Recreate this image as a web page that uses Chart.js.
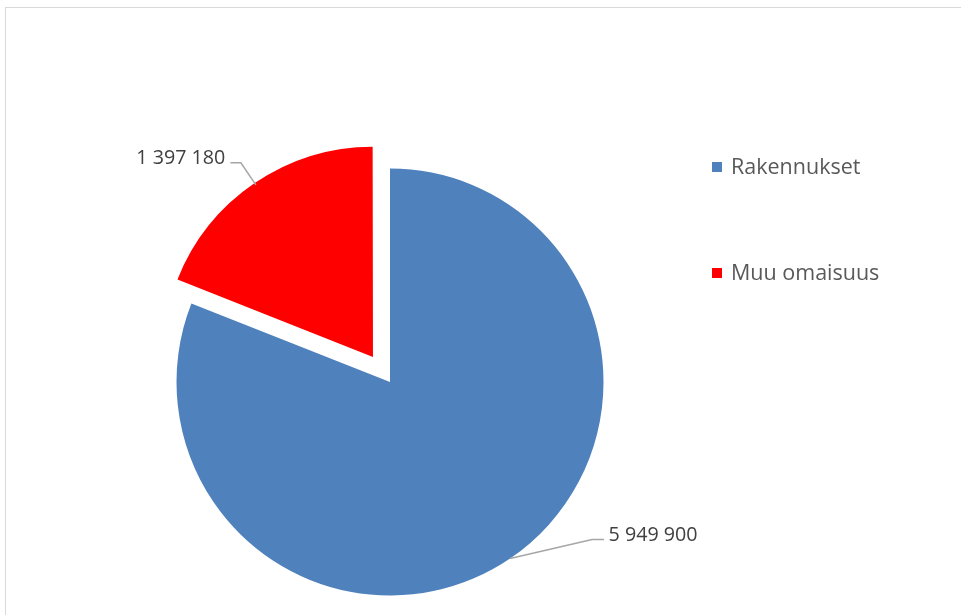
<!DOCTYPE html>
<html>
<head>
<meta charset="utf-8">
<script src="https://cdn.jsdelivr.net/npm/chart.js@4.4.0/dist/chart.umd.min.js"></script>
<style>
    html, body { margin: 0; padding: 0; background: #fff; overflow: hidden; }
    #frame { position: absolute; left: 5px; top: 7px; width: 1000px; height: 700px; border: 1.5px solid #d9d9d9; }
    #wrap { position: absolute; left: 0; top: 0; width: 961px; height: 615px; }
</style>
</head>
<body>
<div id="frame"></div>
<div id="wrap"><canvas id="pieChart" width="961" height="615"></canvas></div>
<script>
// Data
const categories = ['Rakennukset', 'Muu omaisuus'];
const values = [5949900, 1397180];
const sliceColors = ['#4f81bd', '#ff0000'];

// Exploded slice: chart.js moves the arc by offset / 4 px
const explode = [0, 121];
// the exploded slice is drawn a little smaller than the main one
const radiusTrim = [0, 5.3];

// Format numbers with space as thousands separator
const formatNumber = (num) => String(num).replace(/\B(?=(\d{3})+(?!\d))/g, ' ');

// Leader line per slice: elbow offset from the arc anchor, then horizontal run
const leaders = [
    { dx: 82, dy: -19, run: 12 },
    { dx: -15, dy: -22, run: -10.5 }
];

const trimPlugin = {
    id: 'sliceTrim',
    afterDatasetUpdate(chart, args) {
        chart.getDatasetMeta(args.index).data.forEach((arc, i) => {
            arc.outerRadius -= radiusTrim[i] || 0;
        });
    }
};

const labelPlugin = {
    id: 'pieLabels',
    afterDatasetsDraw(chart) {
        const ctx = chart.ctx;
        const meta = chart.getDatasetMeta(0);
        ctx.save();
        ctx.font = '19.7px "Open Sans"';
        meta.data.forEach((arc, i) => {
            const p = arc.getProps(['x', 'y', 'startAngle', 'endAngle', 'outerRadius'], true);
            const mid = (p.startAngle + p.endAngle) / 2;
            const shift = (arc.options.offset || 0) / 4;
            const r = p.outerRadius + shift;
            const ax = p.x + Math.cos(mid) * r;
            const ay = p.y + Math.sin(mid) * r;
            const ex = ax + leaders[i].dx;
            const ey = ay + leaders[i].dy;
            const tx = ex + leaders[i].run;

            ctx.strokeStyle = '#a6a6a6';
            ctx.lineWidth = 1.5;
            ctx.beginPath();
            ctx.moveTo(ax, ay);
            ctx.lineTo(ex, ey);
            ctx.lineTo(tx, ey);
            ctx.stroke();

            ctx.fillStyle = '#404040';
            ctx.textBaseline = 'alphabetic';
            const right = leaders[i].run < 0;
            ctx.textAlign = right ? 'right' : 'left';
            ctx.fillText(formatNumber(values[i]), right ? tx - 5 : tx + 4.5, ey + 1);
        });
        ctx.restore();
    }
};

const legendPlugin = {
    id: 'sideLegend',
    afterDraw(chart) {
        const ctx = chart.ctx;
        ctx.save();
        ctx.font = '21.5px "Open Sans"';
        ctx.textBaseline = 'alphabetic';
        ctx.textAlign = 'left';
        chart.data.labels.forEach((label, i) => {
            const y = 167 + i * 106;
            ctx.fillStyle = chart.data.datasets[0].backgroundColor[i];
            ctx.fillRect(712, y - 5, 10, 10);
            ctx.fillStyle = '#595959';
            ctx.fillText(label, 731, y + 7.3);
        });
        ctx.restore();
    }
};

new Chart(document.getElementById('pieChart'), {
    type: 'pie',
    data: {
        labels: categories,
        datasets: [{
            data: values,
            backgroundColor: sliceColors,
            borderWidth: 0,
            offset: explode,
            radius: 213.5
        }]
    },
    options: {
        responsive: false,
        animation: false,
        events: [],
        layout: { padding: { left: 0, right: 181, top: 149, bottom: 0 } },
        plugins: {
            legend: { display: false },
            tooltip: { enabled: false }
        }
    },
    plugins: [trimPlugin, labelPlugin, legendPlugin]
});
</script>
</body>
</html>
